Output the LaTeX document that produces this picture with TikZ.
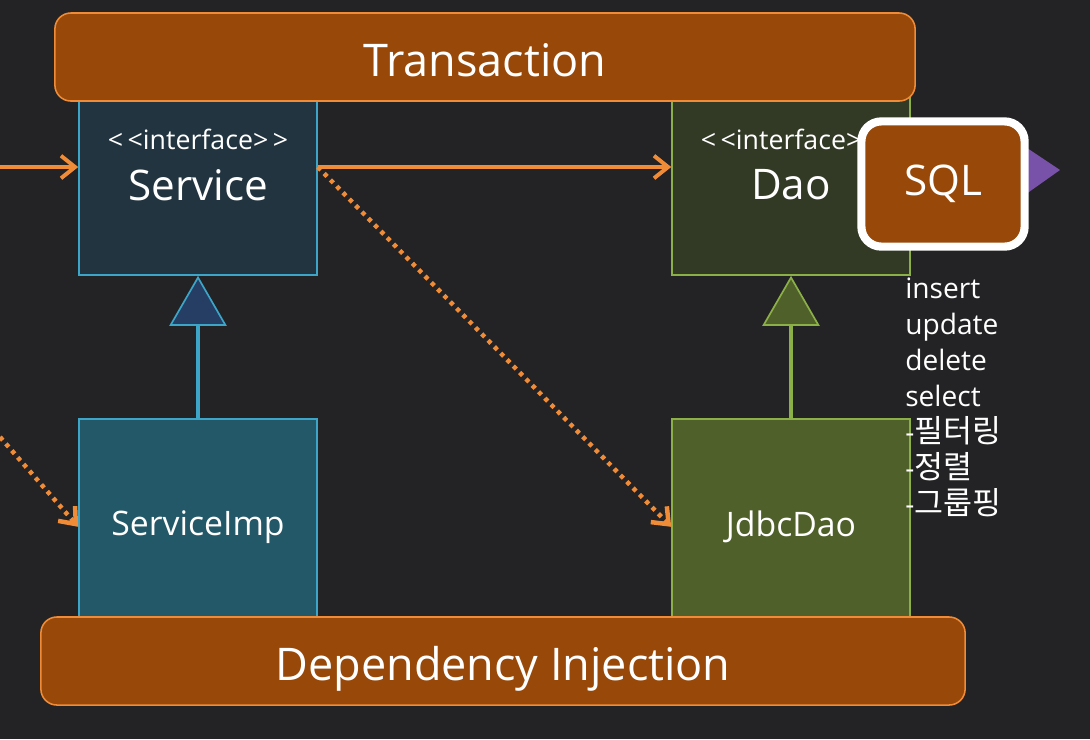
\documentclass[tikz,border=0pt]{standalone}
\usepackage{fontspec}
\setmainfont{Open Sans}
\newfontfamily\kr[Scale=1.12]{Noto Sans CJK KR}
\usetikzlibrary{arrows.meta}

\definecolor{bgdark}{RGB}{35,34,36}
\definecolor{rust}{RGB}{152,72,8}
\definecolor{rustline}{RGB}{240,140,55}
\definecolor{srvfill}{RGB}{34,52,63}
\definecolor{implfill}{RGB}{35,88,104}
\definecolor{blueline}{RGB}{60,165,200}
\definecolor{bluetri}{RGB}{38,62,100}
\definecolor{daofill}{RGB}{50,58,38}
\definecolor{jdbcfill}{RGB}{80,96,42}
\definecolor{greenline}{RGB}{140,176,72}
\definecolor{sqlarrow}{RGB}{120,82,168}

\begin{document}
\begin{tikzpicture}[x=0.025cm, y=-0.025cm, text=white,
  box/.style={draw, line width=1.1pt, minimum width=5.95cm, inner sep=0pt},
  ifbox/.style={box, minimum height=4.5cm},
  impbox/.style={box, minimum height=5.15cm},
  band/.style={draw=rustline, fill=rust, line width=1.1pt, rounded corners=0.4cm,
    minimum height=2.2cm, text height=0.96cm, text depth=0pt,
    font=\fontsize{32}{36}\selectfont},
  stereo/.style={font=\fontsize{19}{22}\selectfont},
  bigname/.style={font=\fontsize{30}{34}\selectfont},
  implname/.style={font=\fontsize{24}{28}\selectfont},
  flow/.style={draw=rustline, line width=2.8pt, -{Straight Barb[length=10pt,width=16pt]}},
  dep/.style={flow, line width=3.2pt, dash pattern=on 3pt off 3.4pt},
  inh/.style={line width=2.8pt, -{Triangle[length=1.25cm,width=1.43cm,line width=1.2pt,fill=#1]}}]

% background and page size
\fill[bgdark] (0,0) rectangle (1090,739);
\useasboundingbox (0,0) rectangle (1090,739);

% the four classes
\node[ifbox, draw=blueline, fill=srvfill] (srv) at (198,185) {};
\node[ifbox, draw=greenline, fill=daofill] (dao) at (791,185) {};
\node[impbox, draw=blueline, fill=implfill] (impl) at (198,522) {};
\node[impbox, draw=greenline, fill=jdbcfill] (jdbc) at (791,522) {};

\node[stereo] (srvst) at ([yshift=-1.125cm]srv.north) {<\,<interface>\,>};
\node[bigname] (srvnm) at (srv) {Service};
\node[stereo] (daost) at ([yshift=-1.125cm]dao.north) {<\,<interface>\,>};
\node[bigname] (daonm) at (dao) {Dao};
\node[implname] (implnm) at ([yshift=-0.12cm]impl) {ServiceImp};
\node[implname] (jdbcnm) at ([yshift=-0.12cm]jdbc) {JdbcDao};

% implements
\draw[inh=bluetri, draw=blueline] (impl.north) -- (srv.south);
\draw[inh=jdbcfill, draw=greenline] (jdbc.north) -- (dao.south);

% the two bands
\node[band, minimum width=21.5cm] (tx) at (485,57) {Transaction};
\node[band, minimum width=23.1cm] (di) at (503,661) {Dependency Injection};

% SQL with its pointer
\fill[sqlarrow] (1012,138) -- (1060,170) -- (1012,204) -- cycle;
\node[draw=white, fill=rust, line width=5.8pt, rounded corners=0.5cm,
  minimum width=4.08cm, minimum height=3.13cm, bigname] (sql) at (943,184) {SQL};

\node[anchor=north west, align=left, inner sep=0pt,
  font=\fontsize{20}{25.6}\selectfont] (ops) at (905,278)
  {insert\\update\\delete\\select\\-{\kr 필터링}\\-{\kr 정렬}\\-{\kr 그룹핑}};

% calls
\coordinate (lv) at (0,167);
\coordinate (ld) at (0,437);
\draw[flow] (lv) -- (srv.west |- lv);
\draw[flow] (srv.east |- lv) -- (dao.west |- lv);
\draw[dep] (srv.east |- lv) -- ([yshift=-0.12cm]jdbc.west);
\draw[dep] (ld) -- ([yshift=-0.12cm]impl.west);

\end{tikzpicture}
\end{document}
